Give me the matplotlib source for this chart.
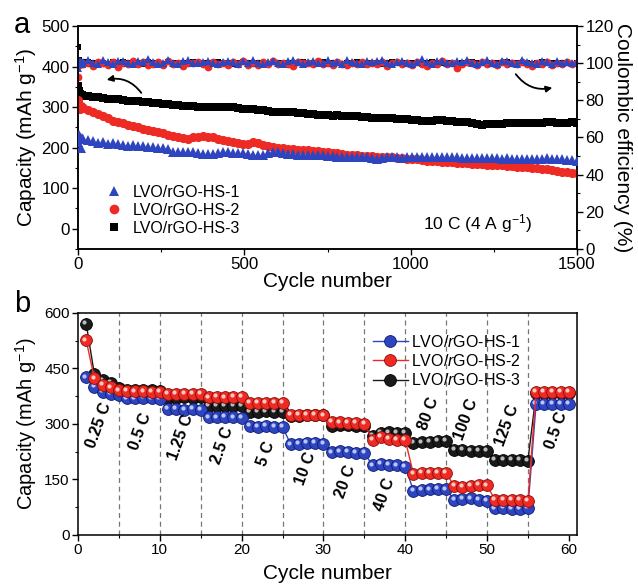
import numpy as np
import matplotlib
matplotlib.use("Agg")
import matplotlib.pyplot as plt
from matplotlib.lines import Line2D
from matplotlib.transforms import ScaledTranslation

plt.rcParams['font.family'] = ['Liberation Sans', 'DejaVu Sans']
plt.rcParams['mathtext.fontset'] = 'custom'
plt.rcParams['mathtext.rm'] = 'Liberation Sans'
plt.rcParams['mathtext.it'] = 'Liberation Sans:italic'
plt.rcParams['mathtext.bf'] = 'Liberation Sans:bold'

# ---------------- Panel a data ----------------
cycles_early = [1, 3, 5, 8, 11]
cycles_a = cycles_early + list(range(15, 1501, 15))

cap_hs1 = [215, 232, 226, 200, 224,
    222, 218, 216, 212, 214, 210, 211, 208, 207, 205,
    206, 203, 204, 202, 201, 199, 200, 196, 190, 190,
    189, 188, 188, 186, 185, 184, 185, 187, 188, 188,
    187, 186, 186, 184, 183, 182, 183, 186, 188, 188,
    186, 185, 184, 183, 183, 182, 181, 182, 181, 180,
    179, 177, 176, 177, 178, 177, 176, 176, 174, 173,
    174, 176, 177, 176, 175, 176, 176, 177, 178, 177,
    178, 177, 178, 177, 176, 176, 175, 175, 174, 175,
    174, 175, 174, 174, 173, 174, 173, 173, 172, 173,
    172, 173, 172, 174, 173, 171, 171, 170, 169, 167]

cap_hs2 = [318, 300, 296, 302, 299,
    298, 293, 288, 282, 278, 272, 266, 264, 260, 256,
    253, 250, 247, 244, 241, 238, 235, 232, 228, 225,
    223, 222, 225, 227, 228, 227, 225, 222, 219, 216,
    214, 212, 210, 209, 213, 212, 207, 204, 202, 200,
    199, 197, 196, 195, 194, 193, 192, 191, 189, 188,
    187, 186, 185, 183, 182, 181, 180, 180, 179, 178,
    177, 177, 176, 175, 174, 173, 172, 171, 170, 168,
    168, 166, 165, 165, 164, 162, 162, 161, 160, 160,
    159, 158, 157, 156, 156, 155, 154, 153, 153, 152,
    150, 149, 148, 147, 145, 143, 141, 140, 138, 137]

cap_hs3 = [352, 340, 333, 330, 329,
    328, 327, 325, 324, 323, 321, 320, 319, 317, 316,
    315, 314, 313, 312, 311, 309, 308, 307, 305, 304,
    303, 302, 302, 301, 300, 300, 299, 300, 301, 301,
    299, 297, 296, 295, 294, 293, 292, 290, 289, 288,
    289, 288, 287, 286, 285, 284, 282, 281, 281, 280,
    279, 280, 279, 278, 277, 277, 276, 275, 274, 273,
    273, 272, 272, 271, 271, 270, 269, 268, 266, 265,
    266, 268, 267, 266, 265, 264, 263, 262, 260, 258,
    256, 258, 259, 258, 259, 260, 260, 260, 260, 261,
    261, 260, 261, 262, 262, 261, 261, 261, 262, 261]

ce_hs1 = [97.5, 100.5, 101.2, 100.3, 99.8,
    100.8, 101.6, 100.2, 99.7, 101.9, 100.5, 99.4, 100.9, 101.3, 100.0,
    99.6, 101.1, 100.4, 102.0, 100.7, 99.8, 100.3, 101.5, 100.1, 99.5,
    100.9, 101.7, 100.2, 99.9, 100.6, 101.2, 100.0, 99.3, 100.8, 101.4,
    100.5, 99.7, 101.0, 100.3, 101.8, 100.1, 99.6, 100.7, 101.3, 100.2,
    99.8, 100.9, 101.6, 100.4, 99.5, 100.6, 101.1, 100.0, 99.9, 101.5,
    100.3, 100.8, 99.4, 101.9, 100.6, 100.1, 99.7, 101.2, 100.5, 100.9,
    101.7, 100.2, 99.6, 100.8, 101.4, 100.0, 99.8, 100.6, 102.1, 100.4,
    99.5, 100.9, 101.3, 100.1, 99.9, 101.0, 100.5, 101.8, 100.2, 99.4,
    100.7, 101.5, 100.3, 99.8, 100.9, 101.2, 100.0, 99.6, 101.6, 100.4,
    100.1, 99.7, 101.1, 100.6, 99.5, 101.4, 100.3, 100.8, 99.9, 100.5]

ce_hs2 = [92.5, 99.0, 100.5, 99.6, 100.3,
    99.5, 100.2, 98.6, 100.8, 99.9, 99.1, 100.5, 97.8, 100.1, 99.7,
    100.9, 99.3, 100.4, 98.9, 99.8, 100.6, 99.2, 101.3, 99.6, 100.0,
    98.7, 100.3, 99.9, 100.8, 99.4, 97.9, 100.5, 99.8, 100.1, 99.0,
    100.7, 99.5, 101.1, 99.2, 100.0, 98.8, 100.4, 99.7, 100.9, 99.3,
    100.2, 99.6, 98.5, 100.6, 99.9, 100.1, 99.4, 101.0, 99.8, 100.3,
    99.1, 100.5, 99.7, 98.9, 100.2, 99.6, 100.8, 99.3, 100.0, 99.8,
    100.4, 98.7, 99.9, 100.6, 99.5, 100.1, 99.2, 100.7, 99.8, 98.6,
    100.3, 99.6, 100.9, 99.4, 100.0, 97.6, 99.7, 100.5, 99.9, 99.1,
    100.4, 99.8, 100.2, 98.8, 100.6, 99.5, 100.1, 99.3, 100.8, 99.7,
    98.4, 100.0, 99.6, 100.5, 98.9, 100.2, 99.4, 100.7, 99.8, 100.1]

ce_hs3 = [108.5, 101.5, 100.4, 99.8, 100.6,
    100.2, 100.5, 99.9, 100.3, 100.1, 99.8, 100.4, 100.0, 100.6, 99.9,
    100.3, 100.1, 99.7, 100.4, 100.2, 100.0, 99.8, 100.5, 100.1, 99.9,
    100.3, 100.0, 100.4, 99.8, 100.2, 100.1, 99.9, 100.5, 100.0, 100.3,
    99.7, 100.2, 100.4, 100.0, 99.9, 100.3, 100.1, 99.8, 100.4, 100.2,
    100.0, 99.9, 100.3, 100.1, 100.5, 99.8, 100.2, 100.0, 100.4, 99.9,
    100.1, 100.3, 99.8, 100.2, 100.0, 100.4, 99.9, 100.1, 100.3, 100.0,
    99.8, 100.2, 100.4, 100.1, 99.9, 100.3, 100.0, 100.2, 99.8, 100.1,
    100.4, 100.0, 99.9, 100.3, 100.1, 99.8, 100.2, 100.0, 100.4, 99.9,
    100.1, 100.3, 99.8, 100.2, 100.0, 100.4, 99.9, 100.1, 100.3, 100.0,
    99.8, 100.2, 100.4, 100.1, 99.9, 100.3, 100.0, 100.2, 99.8, 100.1]

# ---------------- Panel b data ----------------
cycles_b = list(range(1, 61))
rate_hs1 = [426, 400, 387, 381, 379, 369, 369, 370, 369, 367,
            340, 340, 339, 340, 339, 318, 318, 319, 318, 317,
            294, 293, 294, 293, 292, 245, 247, 248, 248, 246,
            223, 226, 224, 222, 222, 188, 193, 190, 188, 185,
            120, 121, 123, 124, 123, 95, 97, 99, 95, 92,
            72, 74, 71, 70, 73, 355, 355, 355, 355, 355]
rate_hs2 = [526, 423, 405, 399, 391, 389, 388, 388, 387, 386,
            382, 382, 381, 382, 381, 372, 373, 372, 373, 374,
            357, 357, 356, 357, 356, 324, 324, 325, 324, 323,
            305, 304, 303, 302, 300, 258, 264, 260, 258, 257,
            165, 167, 168, 168, 167, 132, 131, 133, 135, 134,
            94, 95, 94, 94, 93, 387, 386, 386, 386, 386]
rate_hs3 = [571, 434, 418, 411, 396, 392, 392, 391, 391, 390,
            371, 371, 372, 371, 372, 348, 348, 349, 348, 348,
            333, 333, 334, 333, 333, 322, 322, 323, 324, 324,
            295, 296, 296, 295, 294, 268, 275, 277, 276, 275,
            248, 250, 252, 254, 255, 231, 229, 228, 228, 227,
            203, 203, 202, 202, 201, 383, 384, 384, 384, 384]
rate_labels = ['0.25 C', '0.5 C', '1.25 C', '2.5 C', '5 C', '10 C', '20 C',
               '40 C', '80 C', '100 C', '125 C', '0.5 C']
rate_boundaries = [5, 10, 15, 20, 25, 30, 35, 40, 45, 50, 55]
label_pos = [(2.6, 297), (7.6, 279), (12.6, 265), (17.7, 243), (23.0, 220),
             (27.8, 180), (32.7, 144), (37.5, 108), (42.9, 328), (47.5, 312),
             (52.4, 296), (58.5, 282)]

names = ['LVO/rGO-HS-1', 'LVO/rGO-HS-2', 'LVO/rGO-HS-3']
names_it = ['LVO/$\\it{r}$GO-HS-1', 'LVO/$\\it{r}$GO-HS-2', 'LVO/$\\it{r}$GO-HS-3']
BLUE = '#2f45c0'
RED = '#ee2a24'
BLACK = '#000000'

fig = plt.figure(figsize=(6.38, 5.85), dpi=100)

# ================= Panel a =================
ax = fig.add_axes([0.1223, 0.5744, 0.7821, 0.3812])
ax2 = ax.twinx()
ax.set_zorder(ax2.get_zorder() + 1)
ax.patch.set_visible(False)

ax2.plot(cycles_a, ce_hs3, 's', color=BLACK, ms=5.0, mew=0, zorder=1)
ax2.plot(cycles_a, ce_hs2, 'o', color=RED, ms=5.6, mew=0, zorder=2)
ax2.plot(cycles_a, ce_hs1, '^', color=BLUE, ms=6.2, mew=0, zorder=3)

ax.plot(cycles_a, cap_hs3, 's', color=BLACK, ms=6.2, mew=0, zorder=1)
ax.plot(cycles_a, cap_hs2, 'o', color=RED, ms=6.6, mew=0, zorder=2)
ax.plot(cycles_a, cap_hs1, '^', color=BLUE, ms=6.8, mew=0, zorder=3)

ax.set_xlim(0, 1500)
ax.set_ylim(-50, 500)
ax2.set_ylim(0, 120)
ax.set_xticks([0, 500, 1000, 1500])
ax.set_xticks([250, 750, 1250], minor=True)
ax.set_yticks([0, 100, 200, 300, 400, 500])
ax.set_yticks([-50, 50, 150, 250, 350, 450], minor=True)
ax2.set_yticks([0, 20, 40, 60, 80, 100, 120])
ax2.set_yticks([10, 30, 50, 70, 90, 110], minor=True)
for a in (ax, ax2):
    a.tick_params(which='major', direction='out', length=4, width=1, labelsize=12.2, pad=2)
    a.tick_params(which='minor', direction='out', length=2.5, width=0.8)
    for s in a.spines.values():
        s.set_linewidth(1.1)
ax.tick_params(axis='x', pad=2)
ax.set_xlabel('Cycle number', fontsize=15, labelpad=0)
ax.set_ylabel('Capacity (mAh g$^{-1}$)', fontsize=15, labelpad=2)
ax2.set_ylabel('Coulombic efficiency (%)', fontsize=15, rotation=-90, labelpad=13)

handles_a = [Line2D([], [], ls='none', marker='^', color=BLUE, ms=7, mew=0),
             Line2D([], [], ls='none', marker='o', color=RED, ms=7, mew=0),
             Line2D([], [], ls='none', marker='s', color=BLACK, ms=6, mew=0)]
ax.legend(handles_a, names, loc='lower left', bbox_to_anchor=(0.04, 0.03),
          frameon=False, fontsize=11.5, handletextpad=0.6, labelspacing=0.2,
          handlelength=1.2, borderaxespad=0)
ax.text(0.91, 0.115, '10 C (4 A g$^{-1}$)', transform=ax.transAxes,
        fontsize=12.5, ha='right', va='center')

ax.annotate('', xy=(0.052, 0.756), xytext=(0.13, 0.69), xycoords='axes fraction',
            arrowprops=dict(arrowstyle='-|>', color='black', lw=1.3,
                            mutation_scale=9, connectionstyle='arc3,rad=0.35'))
ax.annotate('', xy=(0.956, 0.726), xytext=(0.874, 0.794), xycoords='axes fraction',
            arrowprops=dict(arrowstyle='-|>', color='black', lw=1.3,
                            mutation_scale=9, connectionstyle='arc3,rad=0.35'))
fig.text(0.022, 0.957, 'a', fontsize=21, va='center', ha='left')

# ================= Panel b =================
bx = fig.add_axes([0.1223, 0.0855, 0.7821, 0.3795])
for xb in rate_boundaries:
    bx.axvline(xb, color='#777777', ls=(0, (4, 3)), lw=0.9, zorder=0)

hl = ScaledTranslation(-1.3 / 72, 1.3 / 72, fig.dpi_scale_trans)
series_b = [(rate_hs1, BLUE, '#0c1a70', '#b8c8ff', 3),
            (rate_hs2, RED, '#8a0c08', '#ffc8c0', 4),
            (rate_hs3, '#1a1a1a', '#000000', '#bbbbbb', 2)]
line_handles = []
for vals, col, edge, hi, z in series_b:
    h, = bx.plot(cycles_b, vals, '-o', color=col, lw=1.0, ms=8.5, mfc=col, mec=edge,
                 mew=0.6, zorder=z)
    bx.plot(cycles_b, vals, 'o', ls='none', ms=3.0, mfc=hi, mec='none',
            transform=bx.transData + hl, zorder=z + 0.5)
    line_handles.append(h)

for lab, (px, py) in zip(rate_labels, label_pos):
    bx.text(px, py, lab, rotation=70, fontsize=11.5, fontweight='bold',
            ha='center', va='center', zorder=6)

bx.set_xlim(0, 61)
bx.set_ylim(0, 600)
bx.set_xticks([0, 10, 20, 30, 40, 50, 60])
bx.set_xticks([5, 15, 25, 35, 45, 55], minor=True)
bx.set_yticks([0, 150, 300, 450, 600])
bx.set_yticks([75, 225, 375, 525], minor=True)
bx.tick_params(which='major', direction='out', length=4, width=1, labelsize=11, pad=2)
bx.tick_params(which='minor', direction='out', length=2.5, width=0.8)
for s in bx.spines.values():
    s.set_linewidth(1.1)
bx.set_xlabel('Cycle number', fontsize=15, labelpad=5)
bx.set_ylabel('Capacity (mAh g$^{-1}$)', fontsize=14.5, labelpad=4)

leg = bx.legend(line_handles, names_it, loc='upper right', bbox_to_anchor=(0.9, 0.935),
                frameon=False, fontsize=11.5, handlelength=2.2, handletextpad=0.2,
                labelspacing=0.2, borderaxespad=0)
fig.text(0.022, 0.48, 'b', fontsize=21, va='center', ha='left')

fig.savefig('out.png', dpi=100)
